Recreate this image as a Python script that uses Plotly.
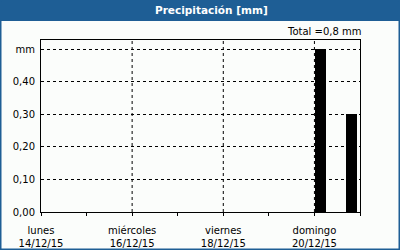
import plotly.graph_objects as go

title = "Precipitación [mm]"
total_text = "Total =0,8 mm"
bar_times = ["2015-12-20 03:20", "2015-12-20 19:32"]
bar_values = [0.50, 0.30]
bar_width_hours = 5.8

y_tickvals = [0.0, 0.1, 0.2, 0.3, 0.4, 0.5]
y_ticktext = ["0,00", "0,10", "0,20", "0,30", "0,40", "mm"]
x_tickvals = ["2015-12-14", "2015-12-16", "2015-12-18", "2015-12-20"]
x_daynames = ["lunes", "miércoles", "viernes", "domingo"]
x_dates = ["14/12/15", "16/12/15", "18/12/15", "20/12/15"]
minor_days = ["2015-12-15", "2015-12-17", "2015-12-19", "2015-12-21"]
x_range = ["2015-12-14", "2015-12-21"]

W, H = 400, 250
L, R, T, B = 41, 40, 40, 38
PW, PH = W - L - R, H - T - B
BLUE = "#1E5E95"
BG = "#FBFDFB"
FONT = "DejaVu Sans"
DASH = "3px,3px"

def px(x):
    return (x - L) / PW

def py(y):
    return 1 - (y - T) / PH

fig = go.Figure()
fig.add_trace(go.Bar(
    x=bar_times, y=bar_values,
    width=[bar_width_hours * 3600 * 1000] * len(bar_values),
    marker=dict(color="black", line=dict(width=0)),
))
fig.add_trace(go.Scatter(x=x_range, y=[0, 0], xaxis="x2", mode="lines",
                         line=dict(width=0), hoverinfo="skip", showlegend=False))

shapes = []
for d in x_tickvals[1:]:
    shapes.append(dict(type="line", xref="x", yref="paper", x0=d, x1=d, y0=0, y1=1,
                       line=dict(color="black", width=1, dash=DASH), layer="below"))

shapes.append(dict(type="rect", xref="paper", yref="paper",
                   x0=px(0), x1=px(W), y0=py(21), y1=py(0),
                   fillcolor=BLUE, line=dict(width=0), layer="above"))
shapes.append(dict(type="rect", xref="paper", yref="paper",
                   x0=px(0.75), x1=px(W - 0.75), y0=py(H - 0.75), y1=py(0.75),
                   line=dict(color=BLUE, width=1.5), fillcolor="rgba(0,0,0,0)", layer="above"))

annotations = [
    dict(text="<b>" + title + "</b>", xref="paper", yref="paper", x=px(211), y=py(10.5),
         xanchor="center", yanchor="middle", showarrow=False,
         font=dict(family=FONT, size=10.5, color="white")),
    dict(text=total_text, xref="paper", yref="paper", x=px(363), y=py(32),
         xanchor="right", yanchor="middle", showarrow=False,
         font=dict(family=FONT, size=10, color="black")),
]

fig.update_layout(
    width=W, height=H,
    margin=dict(l=L, r=R, t=T, b=B, pad=0, autoexpand=False),
    paper_bgcolor=BG, plot_bgcolor=BG,
    showlegend=False,
    shapes=shapes, annotations=annotations,
    font=dict(family=FONT, size=10, color="black"),
    bargap=0,
)
fig.update_xaxes(
    type="date", range=x_range, automargin=False,
    tickvals=x_tickvals, ticktext=x_daynames,
    ticks="outside", ticklen=3, tickcolor="black",
    ticklabelstandoff=6,
    showgrid=False, showline=True, linecolor="black", linewidth=1, mirror=True,
    minor=dict(tickvals=minor_days, ticks="outside", ticklen=3, tickcolor="black", showgrid=False),
    tickfont=dict(family=FONT, size=10), zeroline=False,
)
fig.update_layout(xaxis2=dict(
    type="date", range=x_range, overlaying="x", anchor="y", side="bottom",
    automargin=False,
    tickvals=x_tickvals, ticktext=x_dates, ticks="", showline=False,
    showgrid=False, zeroline=False, ticklabelstandoff=24,
    tickfont=dict(family=FONT, size=10),
))
fig.update_yaxes(
    range=[0, 0.528], automargin=False,
    tickvals=y_tickvals, ticktext=y_ticktext,
    ticks="outside", ticklen=3, tickcolor=BG,
    showgrid=True, gridcolor="black", griddash=DASH, gridwidth=1,
    showline=True, linecolor="black", linewidth=1, mirror=True,
    zeroline=False, tickfont=dict(family=FONT, size=10),
)
fig.write_html("out.html")
